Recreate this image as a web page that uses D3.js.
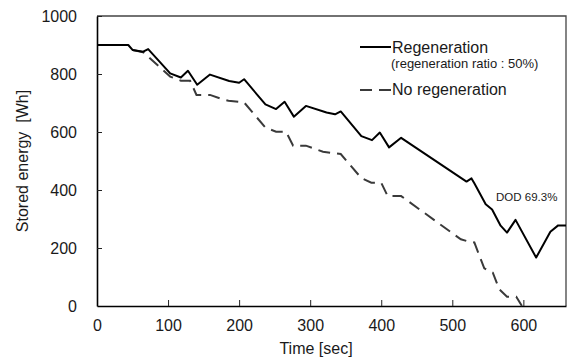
<!DOCTYPE html>
<html>
<head>
<meta charset="utf-8">
<script src="https://cdn.jsdelivr.net/npm/d3@7"></script>
<style>
  body { margin: 0; background: #fff; }
  text { font-family: Arial, "Liberation Sans", sans-serif; fill: #1a1a1a; }
</style>
</head>
<body>
<svg id="chart"></svg>
<script>
// data
var timeRegen = [0, 44, 50, 65, 72, 103, 118, 128, 141, 159, 186, 200, 207, 237, 252, 264, 277, 294, 323, 335, 343, 372, 387, 398, 411, 428, 520, 527, 531, 547, 556, 568, 577, 589, 618, 638, 649, 660];
var valRegen  = [900, 900, 883, 877, 886, 802, 788, 811, 763, 798, 776, 770, 782, 695, 679, 704, 653, 690, 667, 661, 671, 586, 572, 598, 547, 580, 429, 440, 423, 351, 333, 277, 253, 297, 167, 256, 278, 278];

var timeNoRegen = [0, 44, 50, 65, 103, 118, 131, 140, 159, 175, 185, 207, 237, 252, 266, 276, 294, 318, 343, 372, 386, 400, 409, 428, 512, 522, 531, 545, 557, 566, 577, 590, 598];
var valNoRegen  = [900, 900, 883, 875, 791, 777, 777, 728, 728, 714, 708, 702, 615, 601, 601, 553, 553, 532, 524, 441, 425, 425, 379, 379, 230, 223, 219, 130, 115, 58, 32, 32, 0];

var xTicks = [0, 100, 200, 300, 400, 500, 600];
var yTicks = [0, 200, 400, 600, 800, 1000];

var seriesNames = ["Regeneration", "No regeneration"];
var seriesNote = "(regeneration ratio : 50%)";
var dodLabel = "DOD 69.3%";

// size
var size = { width: 567, height: 363 };
var margin = { top: 16, right: 1, bottom: 57, left: 97 };
var width = size.width - margin.left - margin.right;
var height = size.height - margin.top - margin.bottom;

var x = d3.scaleLinear().domain([0, 660]).range([0, width]);
var y = d3.scaleLinear().domain([0, 1000]).range([height, 0]);

var svg = d3.select("#chart")
  .attr("width", size.width)
  .attr("height", size.height)
  .append("g")
    .attr("transform", "translate(" + margin.left + "," + margin.top + ")");

// frame (top / right)
svg.append("path")
  .attr("d", "M0,0H" + width + "V" + height)
  .attr("fill", "none")
  .attr("stroke", "#444")
  .attr("stroke-width", 1.3);

// axes, ticks inside
var xAxis = d3.axisBottom(x).tickValues(xTicks).tickFormat(d3.format("d"))
  .tickSize(-6).tickPadding(14).tickSizeOuter(0);
var yAxis = d3.axisLeft(y).tickValues(yTicks).tickFormat(d3.format("d"))
  .tickSize(-5).tickPadding(20).tickSizeOuter(0);

var gx = svg.append("g")
  .attr("transform", "translate(0," + height + ")")
  .call(xAxis);
var gy = svg.append("g").call(yAxis);

[gx, gy].forEach(function(g){
  g.select(".domain").attr("stroke", "#000").attr("stroke-width", 1.6);
  g.selectAll(".tick line").attr("stroke", "#222").attr("stroke-width", 1);
  g.selectAll(".tick text")
    .attr("fill", "#1a1a1a")
    .style("font-size", "16px")
    .style("font-family", "Arial, 'Liberation Sans', sans-serif");
});
gx.selectAll(".tick").filter(function(d){ return d === 0; }).select("line").remove();
gy.selectAll(".tick").filter(function(d){ return d === 0; }).select("line").remove();

// lines
var line = d3.line()
  .x(function(d){ return x(d[0]); })
  .y(function(d){ return y(d[1]); });

var regen = d3.zip(timeRegen, valRegen);
var noRegen = d3.zip(timeNoRegen, valNoRegen);

svg.append("path")
  .datum(noRegen)
  .attr("d", line)
  .attr("fill", "none")
  .attr("stroke", "#3a3a3a")
  .attr("stroke-width", 2)
  .attr("stroke-dasharray", "12,7");

svg.append("path")
  .datum(regen)
  .attr("d", line)
  .attr("fill", "none")
  .attr("stroke", "#000")
  .attr("stroke-width", 2)
  .attr("stroke-linejoin", "round");

// legend
var leg = svg.append("g").attr("transform", "translate(" + (360 - margin.left) + "," + (47 - margin.top) + ")");
leg.append("line").attr("x1", 0).attr("x2", 31).attr("y1", 0).attr("y2", 0)
  .attr("stroke", "#000").attr("stroke-width", 2);
leg.append("text").attr("x", 32).attr("y", 6).style("font-size", "16px").text(seriesNames[0]);
leg.append("text").attr("x", 31).attr("y", 21).style("font-size", "13px").text(seriesNote);
leg.append("line").attr("x1", 0).attr("x2", 31).attr("y1", 43).attr("y2", 43)
  .attr("stroke", "#3a3a3a").attr("stroke-width", 2).attr("stroke-dasharray", "12,7");
leg.append("text").attr("x", 32).attr("y", 48).style("font-size", "16px").text(seriesNames[1]);

// annotation
svg.append("text")
  .attr("x", 496 - margin.left)
  .attr("y", 201 - margin.top)
  .style("font-size", "11.5px")
  .text(dodLabel);

// axis titles
svg.append("text")
  .attr("x", 316 - margin.left)
  .attr("y", 354 - margin.top)
  .attr("text-anchor", "middle")
  .style("font-size", "16px")
  .text("Time [sec]");

svg.append("text")
  .attr("transform", "translate(" + (28 - margin.left) + "," + (height / 2) + ") rotate(-90)")
  .attr("text-anchor", "middle")
  .style("font-size", "16px")
  .style("white-space", "pre")
  .text("Stored energy  [Wh]");
</script>
</body>
</html>
